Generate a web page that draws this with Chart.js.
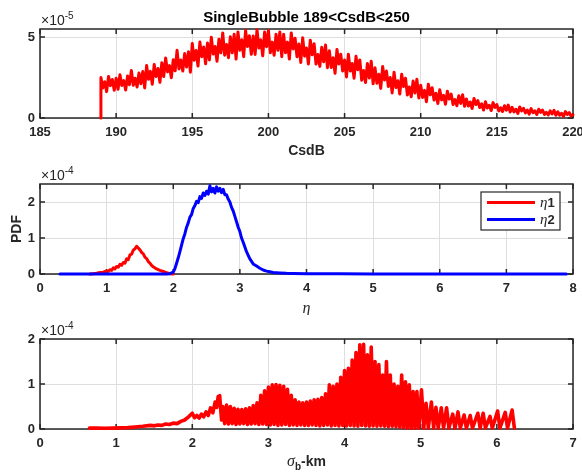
<!DOCTYPE html>
<html>
<head>
<meta charset="utf-8">
<script src="https://cdn.jsdelivr.net/npm/chart.js@4.4.0/dist/chart.umd.min.js"></script>
<style>
  html, body { margin: 0; padding: 0; background: #fff; }
  #wrap { position: relative; width: 582px; height: 474px; overflow: hidden; }
  canvas { position: absolute; left: 0; }
</style>
</head>
<body>
<div id="wrap">
  <canvas id="c1" width="582" height="160" style="top:0px"></canvas>
  <canvas id="c2" width="582" height="155" style="top:160px"></canvas>
  <canvas id="c3" width="582" height="159" style="top:315px"></canvas>
</div>
<script>
// ---- panel 1: CsdB pdf (x1e-5), sampled every 0.125 dB from 189 ----
const csdbStart = 189;
const csdbStep = 0.125;
const csdbPdf = [
  2.50, 1.86, 2.24, 1.63, 2.57, 2.00, 2.38, 1.72,   // 189
  2.45, 1.78, 2.67, 2.01, 2.31, 1.73, 2.59, 2.06,   // 190
  2.94, 2.02, 2.46, 1.92, 2.78, 2.12, 2.88, 1.86,   // 191
  3.24, 2.39, 2.88, 2.09, 3.31, 2.57, 3.06, 2.21,   // 192
  3.42, 2.56, 3.71, 2.85, 3.24, 2.49, 3.60, 2.92,   // 193
  4.18, 3.03, 3.58, 2.90, 3.98, 3.15, 4.10, 2.83,   // 194
  4.61, 3.57, 4.17, 3.21, 4.69, 3.79, 4.39, 3.35,   // 195
  4.64, 3.59, 4.99, 3.95, 4.42, 3.51, 4.86, 4.03,   // 196
  5.26, 3.88, 4.54, 3.73, 5.02, 4.03, 5.17, 3.64,   // 197
  5.32, 4.18, 4.84, 3.79, 5.41, 4.42, 5.08, 3.94,   // 198
  5.07, 3.93, 5.46, 4.32, 4.83, 3.84, 5.31, 4.41,   // 199
  5.41, 4.03, 4.69, 3.88, 5.17, 4.18, 5.32, 3.79,   // 200
  5.17, 4.03, 4.69, 3.64, 5.26, 4.27, 4.93, 3.79,   // 201
  4.57, 3.43, 4.96, 3.82, 4.33, 3.34, 4.81, 3.91,   // 202
  4.59, 3.33, 3.93, 3.19, 4.37, 3.47, 4.51, 3.11,   // 203
  4.16, 3.12, 3.72, 2.76, 4.24, 3.34, 3.94, 2.90,   // 204
  3.59, 2.54, 3.94, 2.90, 3.37, 2.46, 3.81, 2.98,   // 205
  3.59, 2.33, 2.93, 2.19, 3.37, 2.47, 3.51, 2.11,   // 206
  3.10, 2.15, 2.70, 1.83, 3.18, 2.35, 2.90, 1.95,   // 207
  2.50, 1.55, 2.83, 1.88, 2.30, 1.48, 2.70, 1.95,   // 208
  2.46, 1.42, 1.92, 1.31, 2.28, 1.54, 2.39, 1.24,   // 209
  2.03, 1.27, 1.71, 1.01, 2.09, 1.43, 1.87, 1.11,   // 210
  1.53, 0.90, 1.75, 1.12, 1.40, 0.85, 1.66, 1.17,   // 211
  1.48, 0.83, 1.14, 0.76, 1.37, 0.90, 1.44, 0.72,   // 212
  1.18, 0.74, 0.99, 0.59, 1.21, 0.83, 1.08, 0.65,   // 213
  0.87, 0.49, 1.00, 0.62, 0.79, 0.46, 0.95, 0.65,   // 214
  0.83, 0.44, 0.63, 0.40, 0.76, 0.48, 0.80, 0.37,   // 215
  0.66, 0.38, 0.54, 0.28, 0.68, 0.44, 0.60, 0.32,   // 216
  0.49, 0.24, 0.58, 0.33, 0.44, 0.22, 0.54, 0.35,   // 217
  0.49, 0.22, 0.35, 0.19, 0.44, 0.25, 0.47, 0.17,   // 218
  0.38, 0.17, 0.29, 0.10, 0.40, 0.22, 0.34, 0.13,   // 219
  0.20                                              // 220
];

// ---- panel 2: eta pdfs (x1e-4) ----
const eta1X = [0.75, 0.8, 0.85, 0.9, 0.95,
  1.0, 1.025, 1.05, 1.075, 1.1, 1.125, 1.15, 1.175, 1.2, 1.225, 1.25, 1.275, 1.3, 1.325, 1.35, 1.375,
  1.4, 1.425, 1.45, 1.475, 1.5, 1.525, 1.55, 1.575, 1.6, 1.625, 1.65, 1.675, 1.7,
  1.75, 1.8, 1.85, 1.9, 1.95, 2.0];
const eta1Pdf = [0, 0.01, 0.02, 0.04, 0.05,
  0.09, 0.07, 0.12, 0.1, 0.17, 0.14, 0.21, 0.19, 0.27, 0.24, 0.32, 0.3, 0.42, 0.4, 0.53, 0.55,
  0.66, 0.7, 0.77, 0.72, 0.67, 0.6, 0.56, 0.47, 0.43, 0.35, 0.3, 0.24, 0.2,
  0.14, 0.1, 0.07, 0.04, 0.01, 0];

const eta2X = [0.3, 1.0, 1.5, 1.9, 1.95,
  2.0, 2.025, 2.05, 2.075, 2.1, 2.125, 2.15, 2.175, 2.2, 2.225, 2.25, 2.275, 2.3, 2.325, 2.35, 2.375,
  2.4, 2.425, 2.45, 2.475, 2.5, 2.525, 2.55, 2.575, 2.6, 2.625, 2.65, 2.675, 2.7, 2.725, 2.75, 2.775,
  2.8, 2.825, 2.85, 2.875, 2.9, 2.925, 2.95, 2.975, 3.0, 3.025, 3.05, 3.075, 3.1, 3.125, 3.15, 3.175, 3.2,
  3.25, 3.3, 3.35, 3.4, 3.45, 3.5, 3.6, 3.7, 3.8, 4.0, 4.5, 5.0, 6.0, 7.0, 7.9];
const eta2Pdf = [0, 0, 0, 0, 0.01,
  0.05, 0.15, 0.3, 0.45, 0.62, 0.8, 0.98, 1.12, 1.3, 1.42, 1.58, 1.65, 1.82, 1.9, 2.02, 1.98,
  2.15, 2.1, 2.25, 2.18, 2.3, 2.22, 2.45, 2.28, 2.38, 2.25, 2.42, 2.3, 2.38, 2.26, 2.35, 2.2,
  2.2, 2.08, 2.0, 1.85, 1.75, 1.6, 1.45, 1.3, 1.18, 1.0, 0.88, 0.75, 0.62, 0.52, 0.42, 0.35, 0.28,
  0.22, 0.16, 0.11, 0.08, 0.06, 0.04, 0.03, 0.02, 0.015, 0.01, 0.005, 0, 0, 0, 0];

// ---- panel 3: sigma_b pdf (x1e-4) ----
const sigmaX = [0.65, 0.75, 0.85, 0.95, 1.05, 1.15, 1.25, 1.35, 1.45, 1.5, 1.55, 1.6, 1.65, 1.7, 1.75, 1.8,
  1.85, 1.9, 1.95, 2.0, 2.03, 2.06, 2.09, 2.12, 2.15, 2.18, 2.21, 2.24, 2.27, 2.3, 2.32, 2.34, 2.36, 2.37, 2.385];
const sigmaPdf = [0.02, 0.02, 0.015, 0.02, 0.025, 0.03, 0.045, 0.06, 0.08, 0.07, 0.09, 0.08, 0.11, 0.1, 0.13, 0.12,
  0.17, 0.2, 0.27, 0.35, 0.25, 0.3, 0.24, 0.33, 0.27, 0.38, 0.3, 0.47, 0.36, 0.6, 0.48, 0.72, 0.74, 0.5, 0.2];
// dense oscillating part, peaks every 0.05 from 2.40, floors half-way between
const denseStart = 2.40;
const denseStep = 0.05;
const sigmaTop = [
  0.50, 0.53, 0.50, 0.46, 0.44, 0.43, 0.45, 0.47, 0.52, 0.58, 0.75, 0.85,
  0.93, 0.98, 0.99, 0.97, 0.95, 0.88, 0.75, 0.65, 0.60, 0.58,
  0.60, 0.62, 0.65, 0.66, 0.70, 0.78, 0.98, 0.95, 1.00, 1.15,
  1.30, 1.35, 1.53, 1.70, 1.87, 1.88, 1.65, 1.82, 1.50, 1.43,
  1.20, 1.50, 1.20, 1.00, 0.95, 1.20, 1.05, 0.98, 0.83, 0.83
];
const sigmaFloor = [
  0.12, 0.11, 0.12, 0.10, 0.11, 0.12, 0.10, 0.11, 0.12, 0.10, 0.11, 0.10,
  0.09, 0.10, 0.08, 0.09, 0.10, 0.08, 0.09, 0.08, 0.09, 0.08,
  0.08, 0.09, 0.08, 0.07, 0.08, 0.09, 0.07, 0.08, 0.07, 0.08,
  0.07, 0.08, 0.07, 0.06, 0.08, 0.07, 0.06, 0.07, 0.06, 0.07,
  0.06, 0.05, 0.06, 0.05, 0.04, 0.03, 0.02, 0.02, 0.02, 0.02
];
// separated spikes at the tail
const combX = [5.01, 5.07, 5.14, 5.2, 5.27, 5.34, 5.42, 5.49, 5.57, 5.65, 5.75, 5.82, 5.91, 6.01, 6.11, 6.2];
const combPdf = [0.87, 0.57, 0.6, 0.48, 0.47, 0.47, 0.33, 0.38, 0.31, 0.3, 0.35, 0.35, 0.28, 0.4, 0.37, 0.42];
const combBase = 0.02;

const AXIS = '#262626';
const GRID = '#dedede';
const SANS = '"Liberation Sans", Arial, sans-serif';
const SERIF = '"Liberation Serif", "Times New Roman", serif';
const TICK_FONT = { family: SANS, size: 13, weight: 'bold' };

// points
const csdbPoints = [{ x: csdbStart, y: 0 }].concat(csdbPdf.map((v, i) => ({ x: csdbStart + i * csdbStep, y: v })));
const eta1Points = eta1X.map((x, i) => ({ x: x, y: eta1Pdf[i] }));
const eta2Points = eta2X.map((x, i) => ({ x: x, y: eta2Pdf[i] }));
const sigmaPoints = sigmaX.map((x, i) => ({ x: x, y: sigmaPdf[i] }));
sigmaTop.forEach((v, i) => {
  const x = denseStart + i * denseStep;
  sigmaPoints.push({ x: x, y: v });
  sigmaPoints.push({ x: x + denseStep / 2, y: sigmaFloor[i] });
});
combX.forEach((x, i) => {
  sigmaPoints.push({ x: x, y: combPdf[i] });
  sigmaPoints.push({ x: x + 0.03, y: combBase });
});

function onStep(step) {
  return s => { s.ticks = s.ticks.filter(t => Math.abs(t.value / step - Math.round(t.value / step)) < 1e-9); };
}

function xAxis(min, max, step, height) {
  return {
    type: 'linear', min: min, max: max,
    ticks: { stepSize: step, padding: 7, color: AXIS, font: TICK_FONT, maxRotation: 0, autoSkip: false, includeBounds: false },
    grid: { color: GRID, drawTicks: false },
    border: { display: false },
    afterBuildTicks: onStep(step),
    afterFit: s => { s.height = height; s.paddingLeft = 0; s.paddingRight = 0; }
  };
}

function yAxis(max, step) {
  return {
    type: 'linear', min: 0, max: max,
    ticks: { stepSize: step, padding: 5, color: AXIS, font: TICK_FONT, includeBounds: false },
    grid: { color: GRID, drawTicks: false },
    border: { display: false },
    afterBuildTicks: onStep(step),
    afterFit: s => { s.width = 40; s.paddingTop = 0; s.paddingBottom = 0; }
  };
}

function drawRuns(ctx, runs, cx, cy) {
  let total = 0;
  runs.forEach(r => { ctx.font = r.font; total += ctx.measureText(r.text).width; });
  let x = cx - total / 2;
  ctx.textAlign = 'left';
  ctx.textBaseline = 'middle';
  runs.forEach(r => {
    ctx.font = r.font;
    ctx.fillText(r.text, x, cy + (r.dy || 0));
    x += ctx.measureText(r.text).width;
  });
}

// MATLAB-like box, inward ticks, exponent and labels
const matlabFrame = {
  id: 'matlabFrame',
  beforeDatasetsDraw(chart) {
    const { ctx, chartArea: a, scales } = chart;
    ctx.save();
    ctx.strokeStyle = AXIS;
    ctx.lineWidth = 1.5;
    ctx.beginPath();
    scales.x.ticks.forEach(t => {
      const px = scales.x.getPixelForValue(t.value);
      ctx.moveTo(px, a.bottom); ctx.lineTo(px, a.bottom - 5);
      ctx.moveTo(px, a.top); ctx.lineTo(px, a.top + 5);
    });
    scales.y.ticks.forEach(t => {
      const py = scales.y.getPixelForValue(t.value);
      ctx.moveTo(a.left, py); ctx.lineTo(a.left + 5, py);
      ctx.moveTo(a.right, py); ctx.lineTo(a.right - 5, py);
    });
    ctx.stroke();
    ctx.strokeRect(a.left, a.top, a.right - a.left, a.bottom - a.top);
    ctx.restore();
  },
  afterDraw(chart, args, opts) {
    const { ctx, chartArea: a } = chart;
    ctx.save();
    ctx.fillStyle = AXIS;
    // exponent
    ctx.textAlign = 'left';
    ctx.textBaseline = 'alphabetic';
    ctx.font = '14px ' + SANS;
    ctx.fillText('\u00d710', a.left + 1, a.top - 4);
    const w = ctx.measureText('\u00d710').width;
    ctx.font = '10px ' + SANS;
    ctx.fillText(opts.exponent, a.left + 1 + w, a.top - 10);
    // title
    if (opts.title) {
      ctx.fillStyle = '#000';
      ctx.font = 'bold 15px ' + SANS;
      ctx.textAlign = 'center';
      ctx.fillText(opts.title, (a.left + a.right) / 2, a.top - 7);
      ctx.fillStyle = AXIS;
    }
    // x label
    drawRuns(ctx, opts.xlabel, (a.left + a.right) / 2, opts.xlabelY);
    // y label
    if (opts.ylabel) {
      ctx.save();
      ctx.translate(17, (a.top + a.bottom) / 2);
      ctx.rotate(-Math.PI / 2);
      ctx.font = 'bold 14px ' + SANS;
      ctx.textAlign = 'center';
      ctx.textBaseline = 'middle';
      ctx.fillText(opts.ylabel, 0, 0);
      ctx.restore();
    }
    // legend
    if (opts.legend) {
      const L = opts.legend;
      ctx.fillStyle = '#fff';
      ctx.fillRect(L.x, L.y, L.w, L.h);
      ctx.strokeStyle = AXIS;
      ctx.lineWidth = 1.2;
      ctx.strokeRect(L.x, L.y, L.w, L.h);
      L.items.forEach((it, i) => {
        const ly = L.y + 10.5 + i * 17;
        ctx.strokeStyle = it.color;
        ctx.lineWidth = 3;
        ctx.beginPath();
        ctx.moveTo(L.x + 6, ly); ctx.lineTo(L.x + 54, ly);
        ctx.stroke();
        ctx.fillStyle = AXIS;
        ctx.textAlign = 'left';
        ctx.textBaseline = 'middle';
        ctx.font = 'italic 15px ' + SERIF;
        ctx.fillText('\u03b7', L.x + 59, ly + 1);
        const ew = ctx.measureText('\u03b7').width;
        ctx.font = 'bold 13px ' + SANS;
        ctx.fillText(it.idx, L.x + 59 + ew, ly + 1);
      });
    }
    ctx.restore();
  }
};

function lineSet(points, color, order, width) {
  return {
    data: points, borderColor: color, borderWidth: width || 3, pointRadius: 0,
    borderJoinStyle: 'round', borderCapStyle: 'round',
    tension: 0, fill: false, clip: 3, order: order || 0
  };
}

function baseOptions(top, right, scales, frame) {
  return {
    responsive: false, animation: false, devicePixelRatio: 1,
    layout: { padding: { top: top, right: right, left: 0, bottom: 0 } },
    scales: scales,
    plugins: { legend: { display: false }, tooltip: { enabled: false }, matlabFrame: frame }
  };
}

new Chart(document.getElementById('c1'), {
  type: 'line',
  data: { datasets: [lineSet(csdbPoints, '#ff0000')] },
  options: baseOptions(29, 9, { x: xAxis(185, 220, 5, 42), y: yAxis(5.5, 5) }, {
    exponent: '-5',
    title: 'SingleBubble 189<CsdB<250',
    xlabel: [{ text: 'CsdB', font: 'bold 14px ' + SANS }],
    xlabelY: 151
  }),
  plugins: [matlabFrame]
});

new Chart(document.getElementById('c2'), {
  type: 'line',
  data: { datasets: [lineSet(eta1Points, '#ff0000', 1), lineSet(eta2Points, '#0000ff', 0)] },
  options: baseOptions(24, 9, { x: xAxis(0, 8, 1, 41), y: yAxis(2.5, 1) }, {
    exponent: '-4',
    xlabel: [{ text: '\u03b7', font: 'italic 16px ' + SERIF }],
    xlabelY: 149,
    ylabel: 'PDF',
    legend: { x: 481, y: 32, w: 79, h: 38, items: [{ color: '#ff0000', idx: '1' }, { color: '#0000ff', idx: '2' }] }
  }),
  plugins: [matlabFrame]
});

new Chart(document.getElementById('c3'), {
  type: 'line',
  data: { datasets: [lineSet(sigmaPoints, '#ff0000', 0, 3.6)] },
  options: baseOptions(24, 9, { x: xAxis(0, 7, 1, 45), y: yAxis(2, 1) }, {
    exponent: '-4',
    xlabel: [
      { text: '\u03c3', font: 'italic 16px ' + SERIF },
      { text: 'b', font: 'bold 10px ' + SANS, dy: 5 },
      { text: '-km', font: 'bold 14px ' + SANS }
    ],
    xlabelY: 147
  }),
  plugins: [matlabFrame]
});
</script>
</body>
</html>
